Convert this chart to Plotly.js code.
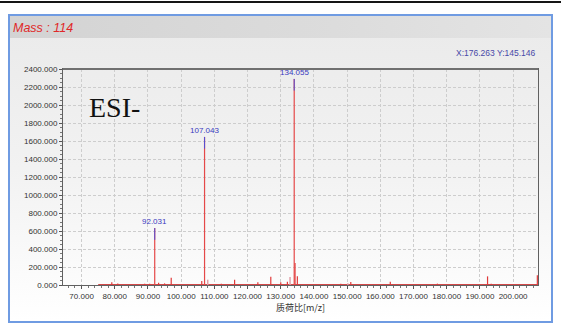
<!DOCTYPE html>
<html>
<head>
<meta charset="utf-8">
<script src="https://cdn.plot.ly/plotly-3.0.1.min.js"></script>
<style>
  html, body { margin: 0; padding: 0; background: #ffffff; }
  #wrap { position: relative; width: 561px; height: 329px; overflow: hidden; background: #ffffff; }
  #topline { position: absolute; left: 0; top: 1px; width: 561px; height: 2px; background: #151515; }
  #frame { position: absolute; left: 8px; top: 14px; width: 545px; height: 309px; box-sizing: border-box;
           border: 2px solid #6f9be2; background: linear-gradient(to bottom, #eaeaea 0%, #f2f2f2 50%, #ffffff 100%); }
  #titlebar { position: absolute; left: 0; top: 0; right: 0; height: 22px;
              background: linear-gradient(to right, #d3d3d3, #dcdcdc 60%, #e4e4e4); }
  #chart { position: absolute; left: 0; top: 0; width: 561px; height: 329px; }
</style>
</head>
<body>
<div id="wrap">
  <div id="topline"></div>
  <div id="frame"><div id="titlebar"></div></div>
  <div id="chart"></div>
</div>
<script>
// ---- data ----
const labeledMz  = [92.031, 107.043, 134.055];
const labeledInt = [632, 1645, 2290];

const peakMz  = [79.1, 80.9, 89.0, 90.5, 93.2, 95.0, 97.0, 106.2, 112.1, 116.1, 123.1, 127.0, 130.0, 132.0, 134.3, 135.0, 148.1, 151.1, 163.0, 177.2, 192.3, 193.4, 207.3];
const peakInt = [30, 18, 15, 15, 26, 18, 81, 44, 15, 59, 30, 92, 30, 37, 244, 96, 15, 33, 37, 15, 96, 15, 107];

const paleMz  = [108.0, 132.8, 150.2];
const paleInt = [59, 89, 20];

const baseMz  = [75, 100, 125, 150, 175, 200, 207.3];
const baseInt = [5, 5, 5, 5, 5, 5, 5];

const xTicks = [70, 80, 90, 100, 110, 120, 130, 140, 150, 160, 170, 180, 190, 200];
const yTicks = [0, 200, 400, 600, 800, 1000, 1200, 1400, 1600, 1800, 2000, 2200, 2400];

const titleText  = "Mass : 114";
const cursorText = "X:176.263 Y:145.146";
const modeText   = "ESI-";
const xTitle     = "质荷比[m/z]";

// ---- helpers ----
function stems(xs, ys, fromFn) {
  const x = [], y = [];
  xs.forEach((v, i) => { x.push(v, v, null); y.push(fromFn ? fromFn(ys[i]) : 0, ys[i], null); });
  return { x, y };
}
const tipLen = 130; // blue tip length (intensity units)

const main  = stems(peakMz, peakInt);
const pale  = stems(paleMz, paleInt);
const lab   = stems(labeledMz, labeledInt);
const tips  = stems(labeledMz, labeledInt, v => v - tipLen);

const traces = [
  { x: baseMz, y: baseInt, mode: 'lines', line: { color: '#d04040', width: 1 }, hoverinfo: 'skip' },
  { x: pale.x, y: pale.y, mode: 'lines', line: { color: '#e2a0a8', width: 1.5 }, hoverinfo: 'skip' },
  { x: main.x, y: main.y, mode: 'lines', line: { color: '#e03a3a', width: 1.2 }, hoverinfo: 'skip' },
  { x: lab.x,  y: lab.y,  mode: 'lines', line: { color: '#e54848', width: 1.2 }, hoverinfo: 'skip' },
  { x: tips.x, y: tips.y, mode: 'lines', line: { color: '#5050d8', width: 1 }, hoverinfo: 'skip' }
];

const annotations = labeledMz.map((m, i) => ({
  x: m, y: labeledInt[i], xref: 'x', yref: 'y', text: m.toFixed(3), showarrow: false,
  xanchor: 'center', yanchor: 'bottom', yshift: 0,
  font: { family: 'Liberation Sans, Arial, sans-serif', size: 8, color: '#3a3ac0' }
}));
annotations.push({
  xref: 'paper', yref: 'paper', x: 1, y: 1.074, xanchor: 'right', yanchor: 'middle',
  text: cursorText, showarrow: false,
  font: { family: 'Liberation Sans, Arial, sans-serif', size: 8.5, color: '#4848a8' }
});
annotations.push({
  xref: 'paper', yref: 'paper', x: 0.05, y: 0.905, xanchor: 'left', yanchor: 'top',
  text: modeText, showarrow: false,
  font: { family: 'Liberation Serif, Times New Roman, serif', size: 28, color: '#111111' }
});
annotations.push({
  xref: 'paper', yref: 'paper', x: -0.11, y: 1.19, xanchor: 'left', yanchor: 'middle',
  text: '<i>' + titleText + '</i>', showarrow: false,
  font: { family: 'Liberation Sans, Arial, sans-serif', size: 12.5, color: '#e02828' }
});

const gridStyle = { gridcolor: '#cdcdcd', griddash: '3px,2px', gridwidth: 1 };
const tickFont = { family: 'Liberation Sans, Arial, sans-serif', size: 8, color: '#333333' };

const layout = {
  width: 561, height: 329,
  margin: { l: 63, r: 23, t: 69, b: 44, pad: 0 },
  paper_bgcolor: 'rgba(0,0,0,0)', plot_bgcolor: 'rgba(0,0,0,0)',
  showlegend: false,
  xaxis: Object.assign({
    range: [64.4, 207.5], tickmode: 'array', tickvals: xTicks, ticktext: xTicks.map(v => v.toFixed(3)),
    ticks: 'outside', ticklen: 3,
    tickcolor: '#555', tickfont: tickFont, showline: true, linecolor: '#606060', linewidth: 1, mirror: true,
    zeroline: false, automargin: false,
    minor: { dtick: 2, ticklen: 2, tickcolor: '#777', showgrid: false },
    title: { text: xTitle, standoff: 1, font: { family: 'Noto Sans CJK SC, sans-serif', size: 9, color: '#333' } }
  }, gridStyle),
  yaxis: Object.assign({
    range: [0, 2400], tickmode: 'array', tickvals: yTicks, ticktext: yTicks.map(v => v.toFixed(3)),
    ticks: 'outside', ticklen: 3,
    tickcolor: '#555', tickfont: tickFont, showline: true, linecolor: '#606060', linewidth: 1, mirror: true,
    zeroline: false, automargin: false,
    minor: { dtick: 50, ticklen: 2, tickcolor: '#777', showgrid: false }
  }, gridStyle),
  shapes: [
    { type: 'line', xref: 'paper', yref: 'paper', x0: 0, x1: 1, y0: 1, y1: 1, line: { color: '#707070', width: 2 } }
  ],
  annotations: annotations
};

Plotly.newPlot('chart', traces, layout, { displayModeBar: false, staticPlot: true });
</script>
</body>
</html>
